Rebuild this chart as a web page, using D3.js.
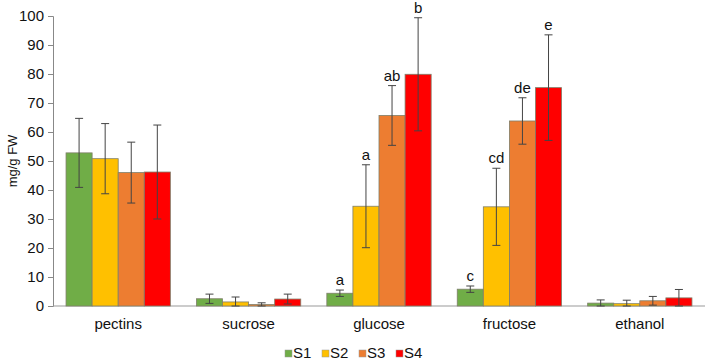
<!DOCTYPE html>
<html><head><meta charset="utf-8">
<script src="https://cdn.jsdelivr.net/npm/d3@7"></script>
<style>body{margin:0;background:#fff;} text{font-family:Arial, "Liberation Sans", sans-serif;}</style>
</head><body>
<svg id="c" width="709" height="360"></svg>
<script>
const categories = ["pectins","sucrose","glucose","fructose","ethanol"];
const seriesNames = ["S1","S2","S3","S4"];
const colors = ["#70AD47","#FFC000","#ED7D31","#FF0000"];
// values per series, per category
const S1 = [52.8, 2.5, 4.4, 5.8, 1.0];
const S2 = [50.8, 1.4, 34.4, 34.2, 0.8];
const S3 = [46.0, 0.5, 65.7, 63.8, 1.8];
const S4 = [46.2, 2.4, 79.9, 75.3, 2.8];
// error bar half-widths
const E1 = [11.9, 1.6, 1.1, 1.1, 1.1];
const E2 = [12.1, 1.7, 14.3, 13.3, 1.2];
const E3 = [10.5, 0.6, 10.3, 8.0, 1.5];
const E4 = [16.2, 1.7, 19.5, 18.2, 2.9];
// significance letters
const L1 = ["", "", "a", "c", ""];
const L2 = ["", "", "a", "cd", ""];
const L3 = ["", "", "ab", "de", ""];
const L4 = ["", "", "b", "e", ""];
const yTicks = [0,10,20,30,40,50,60,70,80,90,100];

const values=[S1,S2,S3,S4], errs=[E1,E2,E3,E4], letters=[L1,L2,L3,L4];
const svg=d3.select("#c");
const m={l:53,r:4,t:16,b:54};
const W=709,H=360;
const x=d3.scaleBand().domain(categories).range([m.l,W-m.r]).paddingInner(0.2).paddingOuter(0.1);
const xs=d3.scaleBand().domain(seriesNames).range([0,x.bandwidth()]);
const y=d3.scaleLinear().domain([0,100]).range([H-m.b,m.t]);

// y axis
const ya=svg.append("g").attr("transform",`translate(${m.l},0)`).call(d3.axisLeft(y).tickValues(yTicks).tickSize(5).tickPadding(4));
ya.selectAll("path,line").attr("stroke","#888");
ya.selectAll("text").attr("font-size",15).attr("fill","#111");
// x axis line
svg.append("line").attr("x1",m.l).attr("x2",W-m.r).attr("y1",y(0)).attr("y2",y(0)).attr("stroke","#999").attr("stroke-width",1);

const data=[];
categories.forEach((c,ci)=>seriesNames.forEach((s,si)=>data.push({c,s,si,v:values[si][ci],e:errs[si][ci],l:letters[si][ci]})));
const g=svg.append("g");
g.selectAll("rect").data(data).join("rect")
 .attr("x",d=>x(d.c)+xs(d.s)).attr("width",xs.bandwidth())
 .attr("y",d=>y(d.v)).attr("height",d=>y(0)-y(d.v))
 .attr("fill",d=>colors[d.si]).attr("stroke","#7f7f6a").attr("stroke-width",0.8);
const eb=svg.append("g").attr("stroke","#444").attr("stroke-width",1);
data.forEach(d=>{
  const cx=x(d.c)+xs(d.s)+xs.bandwidth()/2;
  const top=y(d.v+d.e), bot=y(Math.max(0,d.v-d.e));
  eb.append("line").attr("x1",cx).attr("x2",cx).attr("y1",top).attr("y2",bot);
  eb.append("line").attr("x1",cx-4).attr("x2",cx+4).attr("y1",top).attr("y2",top);
  eb.append("line").attr("x1",cx-4).attr("x2",cx+4).attr("y1",bot).attr("y2",bot);
  if(d.l) svg.append("text").attr("x",cx).attr("y",top-5).attr("text-anchor","middle").attr("font-size",15).attr("fill","#111").text(d.l);
});
// category labels
svg.selectAll(".cl").data(categories).join("text").attr("class","cl")
 .attr("x",d=>x(d)+x.bandwidth()/2).attr("y",y(0)+23).attr("text-anchor","middle").attr("font-size",15).attr("fill","#111").text(d=>d);
// y label
svg.append("text").attr("transform",`translate(17,${(y(0)+y(100))/2}) rotate(-90)`).attr("text-anchor","middle").attr("font-size",13).attr("fill","#111").text("mg/g FW");
// legend
const lx=[285,322,359,396];
seriesNames.forEach((s,i)=>{
  svg.append("rect").attr("x",lx[i]).attr("y",350).attr("width",7).attr("height",7).attr("fill",colors[i]).attr("stroke","#999").attr("stroke-width",0.5);
  svg.append("text").attr("x",lx[i]+8).attr("y",358).attr("font-size",15).attr("fill","#111").text(s);
});
</script>
</body></html>
